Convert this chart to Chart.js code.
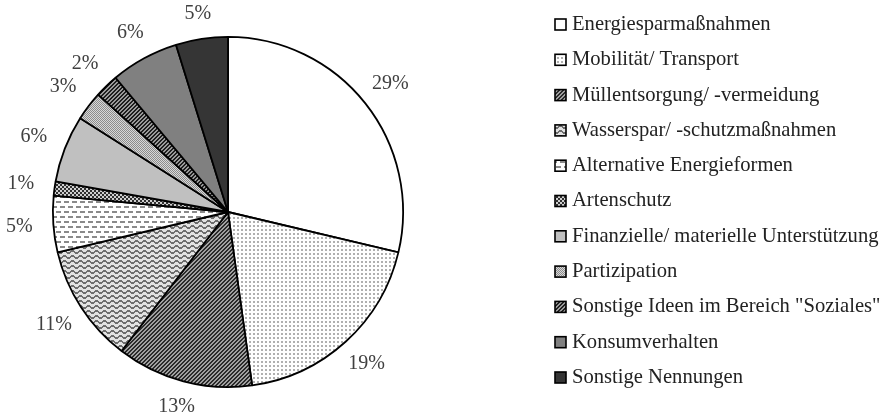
<!DOCTYPE html>
<html>
<head>
<meta charset="utf-8">
<script src="https://cdn.jsdelivr.net/npm/chart.js@4.4.0/dist/chart.umd.min.js"></script>
<style>
html,body{margin:0;padding:0;background:#ffffff;}
#wrap{width:881px;height:415px;position:relative;}
</style>
</head>
<body>
<div id="wrap"><canvas id="c" width="881" height="415"></canvas></div>
<script>
// ---- data ----
const categories = [
  'Energiesparmaßnahmen',
  'Mobilität/ Transport',
  'Müllentsorgung/ -vermeidung',
  'Wasserspar/ -schutzmaßnahmen',
  'Alternative Energieformen',
  'Artenschutz',
  'Finanzielle/ materielle Unterstützung',
  'Partizipation',
  'Sonstige Ideen im Bereich "Soziales"',
  'Konsumverhalten',
  'Sonstige Nennungen'
];
const shares = [28.7, 19.1, 12.6, 10.9, 5.2, 1.3, 6.2, 2.7, 2.2, 6.3, 4.8];
const percentLabels = ['29%', '19%', '13%', '11%', '5%', '1%', '6%', '3%', '2%', '6%', '5%'];

// ---- fill patterns ----
function tile(w, h, paint) {
  const c = document.createElement('canvas');
  c.width = w; c.height = h;
  const g = c.getContext('2d');
  paint(g, w, h);
  return document.createElement('canvas').getContext('2d').createPattern(c, 'repeat');
}
function px(g, x, y, col) { g.fillStyle = col; g.fillRect(x, y, 1, 1); }

const fills = [
  '#ffffff',
  tile(4, 4, (g) => { g.fillStyle = '#ffffff'; g.fillRect(0,0,4,4); g.fillStyle = '#b0b0b0'; g.fillRect(1,1,2,2); }),
  tile(4, 4, (g) => { for (let x=0;x<4;x++) for (let y=0;y<4;y++) px(g,x,y, ((x+y)%4)<2 ? '#2a2a2a' : '#a0a0a0'); }),
  tile(8, 5, (g) => {
    g.fillStyle = '#e2e2e2'; g.fillRect(0,0,8,5);
    const yz = [0,0,1,2,2,2,1,0];
    for (let x=0;x<8;x++) { px(g,x,yz[x]%5,'#6e6e6e'); px(g,x,(yz[x]+1)%5,'#6e6e6e'); }
  }),
  tile(8, 10, (g) => {
    g.fillStyle = '#ffffff'; g.fillRect(0,0,8,10);
    g.fillStyle = '#8a8a8a';
    g.fillRect(0,1,5,2); g.fillRect(4,6,4,2); g.fillRect(0,6,1,2);
  }),
  tile(4, 4, (g) => { for (let x=0;x<4;x++) for (let y=0;y<4;y++) px(g,x,y, ((Math.floor(x/2)+Math.floor(y/2))%2) ? '#cfcfcf' : '#303030'); }),
  '#c0c0c0',
  tile(2, 2, (g) => { px(g,0,0,'#8c8c8c'); px(g,1,1,'#8c8c8c'); px(g,1,0,'#d8d8d8'); px(g,0,1,'#d8d8d8'); }),
  tile(4, 4, (g) => { for (let x=0;x<4;x++) for (let y=0;y<4;y++) px(g,x,y, ((x+y)%4)<2 ? '#1e1e1e' : '#9a9a9a'); }),
  '#808080',
  '#353535'
];

// ---- labels outside the slices ----
const outsideLabels = {
  id: 'outsideLabels',
  afterDatasetsDraw(chart) {
    const meta = chart.getDatasetMeta(0);
    const ctx = chart.ctx;
    ctx.save();
    ctx.font = '20px "Liberation Serif"';
    ctx.fillStyle = '#404040';
    ctx.textAlign = 'center';
    ctx.textBaseline = 'middle';
    meta.data.forEach((arc, i) => {
      const p = arc.getProps(['x','y','startAngle','endAngle','outerRadius'], true);
      const a = (p.startAngle + p.endAngle) / 2;
      const r = p.outerRadius + 24 + 10 * Math.abs(Math.cos(a));
      ctx.fillText(percentLabels[i], p.x + Math.cos(a) * r, p.y + Math.sin(a) * r);
    });
    ctx.restore();
  }
};

// ---- legend on the right ----
const sideLegend = {
  id: 'sideLegend',
  afterDraw(chart) {
    const ctx = chart.ctx;
    const ds = chart.data.datasets[0];
    const x0 = 555, box = 11, top = 24.5, step = 35.3;
    ctx.save();
    ctx.font = '20.6px "Liberation Serif"';
    ctx.textAlign = 'left';
    ctx.textBaseline = 'middle';
    chart.data.labels.forEach((lab, i) => {
      const yc = top + i * step;
      ctx.fillStyle = ds.backgroundColor[i];
      ctx.fillRect(x0, yc - box / 2, box, box);
      ctx.lineWidth = 1.6;
      ctx.strokeStyle = '#000000';
      ctx.strokeRect(x0, yc - box / 2, box, box);
      ctx.fillStyle = '#222222';
      ctx.fillText(lab, x0 + box + 6, yc);
    });
    ctx.restore();
  }
};

new Chart(document.getElementById('c'), {
  type: 'pie',
  data: {
    labels: categories,
    datasets: [{
      data: shares,
      backgroundColor: fills,
      borderColor: '#000000',
      borderWidth: 1.8,
      hoverOffset: 0
    }]
  },
  options: {
    responsive: false,
    animation: false,
    events: [],
    layout: { padding: { left: 52, right: 477, top: 36, bottom: 27 } },
    plugins: {
      legend: { display: false },
      tooltip: { enabled: false }
    }
  },
  plugins: [outsideLabels, sideLegend]
});
</script>
</body>
</html>
